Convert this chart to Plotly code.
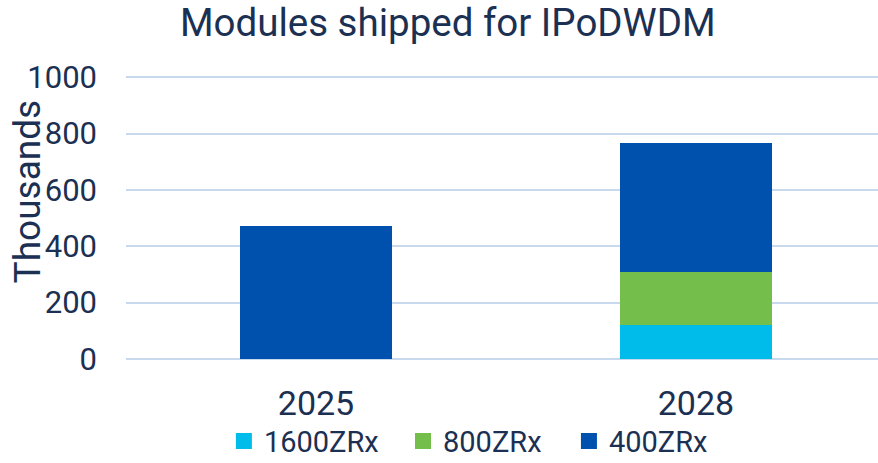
import plotly.graph_objects as go

# data (thousands of modules)
years = ["2025", "2028"]
zr1600 = [0, 120]
zr800 = [0, 190]
zr400 = [472, 455]

series_names = ["1600ZRx", "800ZRx", "400ZRx"]
series_values = [zr1600, zr800, zr400]
colors = ["#00bceb", "#74bf4b", "#0050ae"]

y_ticks = [0, 200, 400, 600, 800, 1000]

TEXT = "#1b3052"
GRID = "#c9d9ed"
FONT = "Roboto"

fig = go.Figure()

legend_ids = ["legend", "legend2", "legend3"]
for name, vals, col, lg in zip(series_names, series_values, colors, legend_ids):
    fig.add_trace(go.Bar(
        x=years, y=vals, name=name,
        marker=dict(color=col, line=dict(width=0)),
        width=0.4, showlegend=False,
    ))
    # square legend swatch
    fig.add_trace(go.Scatter(
        x=[None], y=[None], mode="markers", name=name,
        marker=dict(symbol="square", size=16, color=col),
        legend=lg,
    ))

# one legend per entry so the spacing can follow the reference
legend_x = [0.255, 0.459, 0.648]
leg = {}
for lg, lx in zip(legend_ids, legend_x):
    leg[lg] = dict(
        x=lx, y=-0.29, xref="container", yref="paper",
        xanchor="left", yanchor="middle",
        orientation="h", bgcolor="rgba(0,0,0,0)",
        font=dict(family=FONT, size=29, color=TEXT),
        itemwidth=30,
    )

fig.update_layout(
    barmode="stack",
    width=878, height=463,
    margin=dict(l=126, r=0, t=76, b=104, autoexpand=False),
    plot_bgcolor="white", paper_bgcolor="white",
    font=dict(family=FONT, color=TEXT),
    title=dict(
        text="Modules shipped for IPoDWDM",
        x=0.51, xref="container", xanchor="center",
        y=0.952, yref="container", yanchor="middle",
        font=dict(family=FONT, size=38.5, color=TEXT),
    ),
    xaxis=dict(
        type="category", range=[-0.5, 1.479],
        showgrid=False, showline=False, ticks="",
        ticklabelstandoff=21,
        tickfont=dict(size=34, color=TEXT),
    ),
    yaxis=dict(
        range=[0, 1004], tickvals=y_ticks,
        showgrid=True, gridcolor=GRID, gridwidth=2,
        zeroline=True, zerolinecolor=GRID, zerolinewidth=2,
        showline=False, ticks="", ticklabelstandoff=28,
        tickfont=dict(size=31, color=TEXT),
    ),
    annotations=[dict(
        text="Thousands", textangle=-90,
        xref="paper", yref="paper", x=-0.131, y=0.594,
        xanchor="center", yanchor="middle", showarrow=False,
        font=dict(family=FONT, size=37, color=TEXT),
    )],
    **leg,
)

# drop the page's default body margin so the figure sits at the window's corner
fig.write_html(
    "out.html",
    config={"displayModeBar": False},
    post_script="document.body.style.margin='0';",
)
